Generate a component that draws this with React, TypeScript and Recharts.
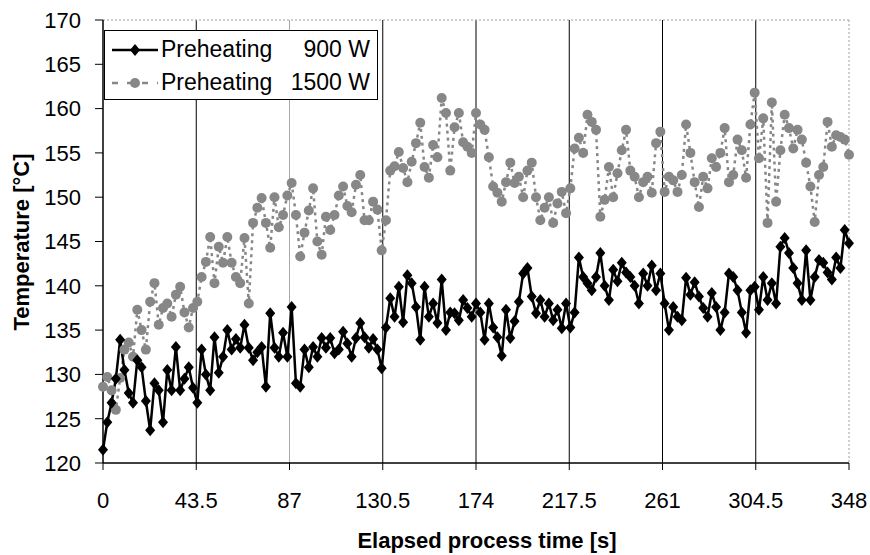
import React from 'react';
import {
  LineChart,
  Line,
  XAxis,
  YAxis,
  CartesianGrid,
  ReferenceLine,
  Legend,
} from 'recharts';

// Sampling interval of the readings (seconds)
const TIME_STEP_S = 2;

// Temperature readings [°C], preheating 900 W, every 2 s from 0 to 348 s
const preheat900: number[] = [
  121.5, 124.6, 126.8, 129.5, 133.9, 130.5, 127.9, 126.8, 131.6, 130.8,
  127.0, 123.7, 129.0, 128.2, 124.6, 130.5, 128.2, 133.1, 128.2, 129.5,
  130.8, 128.5, 126.8, 132.8, 130.0, 128.2, 134.2, 130.2, 132.0, 135.0,
  132.8, 134.0, 133.0, 135.6, 133.0, 131.6, 132.5, 133.1, 128.6, 136.9,
  133.0, 132.0, 134.7, 132.0, 137.6, 129.0, 128.6, 132.8, 130.8, 133.1,
  132.0, 134.1, 133.0, 134.1, 132.4, 132.8, 134.8, 133.5, 132.0, 134.1,
  135.8, 134.2, 133.0, 134.0, 132.8, 130.7, 135.3, 138.6, 136.5, 139.9,
  135.9, 141.2, 140.3, 137.6, 133.9, 139.9, 136.5, 138.0, 135.8, 140.7,
  135.0, 137.0, 136.9, 136.1, 138.4, 137.5, 136.5, 138.0, 137.0, 133.9,
  138.0, 135.3, 134.2, 132.1, 137.3, 134.1, 136.0, 138.2, 141.4, 142.0,
  138.8, 136.9, 138.4, 136.5, 138.0, 136.1, 137.3, 135.2, 138.0, 135.3,
  137.0, 143.2, 141.0, 140.3, 139.5, 141.0, 143.7, 140.0, 138.4, 141.8,
  140.5, 142.6, 141.5, 141.0, 140.0, 138.0, 141.4, 140.0, 142.3, 139.5,
  141.4, 138.0, 135.0, 137.6, 136.5, 136.1, 140.9, 139.0, 140.4, 138.8,
  137.5, 136.5, 139.2, 137.6, 135.0, 137.0, 141.4, 141.0, 139.5, 137.0,
  134.7, 139.5, 139.9, 137.3, 141.0, 138.4, 140.3, 138.0, 144.4, 145.4,
  143.7, 142.0, 140.3, 138.4, 144.0, 138.4, 141.0, 142.9, 142.6, 141.5,
  140.7, 143.2, 142.0, 146.3, 144.8,
];

// Temperature readings [°C], preheating 1500 W, every 2 s from 0 to 348 s
const preheat1500: number[] = [
  128.6, 129.7, 128.2, 126.0, 129.6, 132.8, 133.6, 132.0, 137.3, 135.0,
  132.8, 138.2, 140.3, 135.6, 137.5, 138.0, 136.5, 139.0, 139.9, 137.0,
  135.3, 137.5, 138.2, 141.0, 142.7, 145.5, 140.3, 144.4, 142.6, 145.5,
  142.6, 141.0, 140.3, 145.4, 138.0, 147.1, 148.8, 149.9, 147.1, 144.3,
  150.0, 146.6, 148.0, 150.2, 151.6, 148.0, 143.3, 146.0, 148.5, 151.0,
  145.0, 143.5, 147.8, 146.3, 148.0, 150.2, 151.2, 149.0, 148.3, 151.4,
  152.5, 147.4, 147.4, 149.5, 148.6, 144.0, 147.4, 153.0, 153.5, 155.1,
  153.3, 151.7, 154.0, 156.1, 158.4, 153.4, 152.2, 155.9, 154.5, 161.2,
  159.5, 153.0, 157.9, 159.5, 156.2, 155.7, 155.0, 159.5, 158.2, 157.6,
  154.5, 151.2, 150.5, 149.5, 151.7, 153.9, 151.6, 152.3, 150.0, 153.0,
  153.9, 150.0, 147.4, 148.8, 150.0, 147.1, 149.3, 150.6, 148.2, 151.0,
  155.5, 156.7, 155.0, 159.3, 158.5, 157.6, 147.8, 149.7, 153.4, 150.0,
  152.7, 155.3, 157.6, 153.0, 152.3, 150.0, 151.7, 152.3, 150.5, 156.1,
  157.4, 150.6, 152.3, 151.9, 150.6, 152.5, 158.2, 155.0, 151.7, 148.9,
  152.3, 151.0, 154.4, 153.4, 155.0, 157.8, 151.7, 152.5, 156.5, 155.3,
  152.2, 158.2, 161.8, 154.4, 158.9, 147.1, 160.7, 149.5, 155.3, 159.3,
  157.8, 155.5, 157.6, 156.5, 153.9, 151.2, 147.2, 152.5, 153.4, 158.5,
  155.7, 157.0, 156.8, 156.5, 154.8,
];

const xTicks: number[] = [0, 43.5, 87, 130.5, 174, 217.5, 261, 304.5, 348];
const yTicks: number[] = [120, 125, 130, 135, 140, 145, 150, 155, 160, 165, 170];

const seriesNames = ['Preheating', 'Preheating'];
const seriesPowers = ['900 W', '1500 W'];

const data = preheat900.map((v, i) => ({
  t: i * TIME_STEP_S,
  p900: v,
  p1500: preheat1500[i],
}));

const FONT = '"Liberation Sans", Arial, Helvetica, sans-serif';
const GRAY = '#878787';

const Diamond = (props: any) => {
  const { cx, cy, index } = props;
  if (cx == null || cy == null) return <g key={`dn-${index}`} />;
  return (
    <path
      key={`d-${index}`}
      d={`M${cx},${cy - 6} L${cx + 5},${cy} L${cx},${cy + 6} L${cx - 5},${cy} Z`}
      fill="#000"
      stroke="none"
    />
  );
};

const GridLine = (props: any) => {
  const { x1, y1, x2, y2, index } = props;
  let stroke = '#000';
  let dash: string | undefined = undefined;
  if (index === 0) return <g key={`g-${index}`} />;
  if (index === 2) stroke = '#a8a8a8';
  if (index === xTicks.length - 1) {
    stroke = '#a0a0a0';
    dash = '2 2';
  }
  return (
    <line
      key={`g-${index}`}
      x1={x1}
      y1={y1}
      x2={x2}
      y2={y2}
      stroke={stroke}
      strokeWidth={1}
      strokeDasharray={dash}
    />
  );
};

const LegendBox = () => (
  <div
    style={{
      boxSizing: 'border-box',
      width: 274,
      height: 70,
      border: '1px solid #000',
      background: '#fff',
      fontFamily: FONT,
      fontSize: 23,
      color: '#000',
      padding: '2px 0 0 0',
    }}
  >
    <div style={{ display: 'flex', alignItems: 'center', height: 33 }}>
      <svg width={50} height={20} style={{ marginLeft: 6 }}>
        <line x1={1} y1={10} x2={47} y2={10} stroke="#000" strokeWidth={2.5} />
        <path d="M24,4 L29,10 L24,16 L19,10 Z" fill="#000" />
      </svg>
      <span>{seriesNames[0]}</span>
      <span style={{ marginLeft: 'auto', marginRight: 7 }}>{seriesPowers[0]}</span>
    </div>
    <div style={{ display: 'flex', alignItems: 'center', height: 33 }}>
      <svg width={50} height={20} style={{ marginLeft: 6 }}>
        <line x1={1} y1={10} x2={47} y2={10} stroke={GRAY} strokeWidth={2.5} strokeDasharray="6 9" />
        <circle cx={24} cy={10} r={5} fill={GRAY} />
      </svg>
      <span>{seriesNames[1]}</span>
      <span style={{ marginLeft: 'auto', marginRight: 7 }}>{seriesPowers[1]}</span>
    </div>
  </div>
);

export default function App() {
  return (
    <div style={{ position: 'absolute', left: 0, top: 0, width: 870, height: 555, background: '#fff' }}>
      <LineChart
        width={870}
        height={555}
        data={data}
        margin={{ top: 20, right: 21, left: 0, bottom: 0 }}
        style={{ fontFamily: FONT }}
      >
        <CartesianGrid horizontal={false} vertical={GridLine as any} />
        <ReferenceLine y={170} stroke="#a0a0a0" strokeDasharray="2 2" />
        <XAxis
          dataKey="t"
          type="number"
          domain={[0, 348]}
          ticks={xTicks}
          interval={0}
          height={92}
          tickSize={7}
          tickMargin={22}
          axisLine={{ stroke: '#000', strokeWidth: 1.5 }}
          tickLine={{ stroke: '#000', strokeWidth: 1 }}
          tick={{ fill: '#000', fontSize: 22, fontFamily: FONT }}
          label={{
            value: 'Elapsed process time [s]',
            position: 'insideBottom',
            offset: 7,
            dx: 11,
            style: { fill: '#000', fontSize: 22, fontWeight: 'bold', fontFamily: FONT },
          }}
        />
        <YAxis
          type="number"
          domain={[120, 170]}
          ticks={yTicks}
          interval={0}
          width={103}
          tickSize={8}
          tickMargin={14}
          axisLine={{ stroke: '#000', strokeWidth: 1.5 }}
          tickLine={{ stroke: '#000', strokeWidth: 1 }}
          tick={{ fill: '#000', fontSize: 22, fontFamily: FONT }}
          label={{
            content: () => (
              <text
                x={29}
                y={242}
                transform="rotate(-90 29 242)"
                textAnchor="middle"
                fill="#000"
                fontSize={22}
                fontWeight="bold"
                fontFamily={FONT}
              >
                Temperature [°C]
              </text>
            ),
          }}
        />
        <Line
          dataKey="p1500"
          name="Preheating 1500 W"
          stroke={GRAY}
          strokeWidth={2.5}
          strokeDasharray="3 4"
          dot={{ r: 5, fill: GRAY, stroke: 'none', strokeWidth: 0 }}
          activeDot={false}
          isAnimationActive={false}
          type="linear"
        />
        <Line
          dataKey="p900"
          name="Preheating 900 W"
          stroke="#000"
          strokeWidth={2.5}
          dot={Diamond}
          activeDot={false}
          isAnimationActive={false}
          type="linear"
        />
        <Legend
          layout="vertical"
          align="center"
          verticalAlign="middle"
          content={LegendBox}
          wrapperStyle={{ position: 'absolute', left: 104, top: 30, width: 274, height: 70 }}
        />
      </LineChart>
    </div>
  );
}
